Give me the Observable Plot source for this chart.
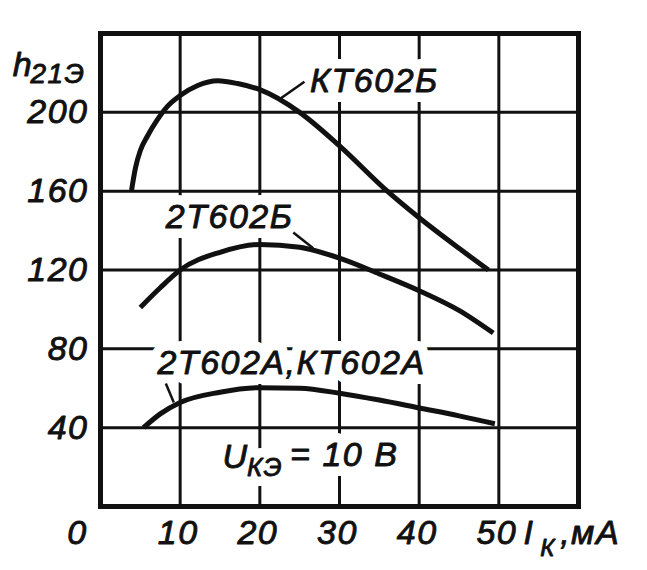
<!DOCTYPE html>
<html>
<head>
<meta charset="utf-8">
<script src="https://cdn.jsdelivr.net/npm/d3@7"></script>
<script src="https://cdn.jsdelivr.net/npm/@observablehq/plot@0.6"></script>
<style>
  html, body { margin: 0; padding: 0; background: #fff; }
  svg text { letter-spacing: 1.5px; }
</style>
</head>
<body>
<div id="chart"></div>
<script>
// Grid / tick values
const xTicks = [10, 20, 30, 40, 50];
const yTicks = [40, 80, 120, 160, 200];

// Curve КТ602Б
const ktbI = [3.9, 4.4, 5.0, 5.9, 7.1, 8.4, 10, 12.2, 14.7, 17.2, 20, 25, 30, 36, 40, 45, 48.7];
const ktbH = [160.5, 172, 180.6, 188, 196, 203, 208.5, 213.6, 216, 214.6, 211.5, 200, 183, 160, 146.5, 131, 120];
// Curve 2Т602Б
const t2bI = [5.0, 7.5, 10, 15, 20, 25, 30, 35, 40, 45, 49.3];
const t2bH = [101, 111, 120, 129, 133, 131.5, 126, 118, 109.5, 99.5, 88];
// Curve 2Т602А, КТ602А
const t2aI = [5.4, 7.5, 10, 15, 20, 25, 30, 35, 40, 45, 49.5];
const t2aH = [40, 47, 52.8, 58, 60.3, 60, 57.5, 54, 50, 46, 42];

const seriesNames = ["КТ602Б", "2Т602Б", "2Т602А,КТ602А"];

const curves = [
  ...ktbI.map((x, i) => ({s: seriesNames[0], x, y: ktbH[i]})),
  ...t2bI.map((x, i) => ({s: seriesNames[1], x, y: t2bH[i]})),
  ...t2aI.map((x, i) => ({s: seriesNames[2], x, y: t2aH[i]}))
];

// Annotation texts (positions in data units)
const notes = [
  {text: seriesNames[0], x: 26.3, y: 216, size: 34},
  {text: seriesNames[1], x: 8.2, y: 147, size: 34},
  {text: seriesNames[2], x: 7.15, y: 73, size: 34},
  {text: "U", x: 15.3, y: 24.9, size: 34},
  {text: "КЭ", x: 18.4, y: 19.8, size: 26},
  {text: "= 10 В", x: 23.8, y: 25.9, size: 34}
];
const leaders = [
  {x1: 22.6, y1: 207, x2: 25.6, y2: 215.5},
  {x1: 24.2, y1: 139, x2: 26.7, y2: 131},
  {x1: 8.2, y1: 62.4, x2: 9.2, y2: 52.8}
];
// Axis titles outside the frame
const outer = [
  {text: "h", x: -11.0, y: 224.2, size: 34},
  {text: "21Э", x: -8.8, y: 219.2, size: 28},
  {text: "I", x: 53.1, y: -13.7, size: 34},
  {text: "К", x: 55.2, y: -21.3, size: 24},
  {text: ",мА", x: 57.7, y: -13.7, size: 34}
];

const font = "'Liberation Sans', Arial, sans-serif";
const ink = "#111";

const textOpts = (extra) => ({
  x: "x", y: "y", text: "text", fontSize: d => d.size,
  textAnchor: "start", fontStyle: "italic", fontFamily: font, ...extra
});
const inkText = {fill: ink, stroke: ink, strokeWidth: 0.9};

const chart = Plot.plot({
  width: 647,
  height: 570,
  marginLeft: 100,
  marginRight: 69,
  marginTop: 33,
  marginBottom: 64,
  x: {domain: [0, 60], axis: null},
  y: {domain: [0, 240], axis: null},
  style: {background: "#fff", fontFamily: font, color: ink},
  marks: [
    Plot.ruleX(xTicks, {stroke: ink, strokeWidth: 3}),
    Plot.ruleY(yTicks, {stroke: ink, strokeWidth: 3}),
    // halos hiding grid behind labels
    Plot.text(notes, textOpts({fill: "#fff", stroke: "#fff", strokeWidth: 20})),
    Plot.text(notes, textOpts(inkText)),
    Plot.link(leaders, {x1: "x1", y1: "y1", x2: "x2", y2: "y2", stroke: ink, strokeWidth: 2.5}),
    Plot.line(curves, {x: "x", y: "y", z: "s", stroke: ink, strokeWidth: 5, curve: "monotone-x", strokeLinecap: "butt"}),
    Plot.frame({stroke: ink, strokeWidth: 5}),
    // tick labels
    Plot.text(yTicks, {x: 0, y: d => d, text: d => String(d), textAnchor: "end", dx: -12,
      fontSize: 34, fontStyle: "italic", fontFamily: font, ...inkText}),
    Plot.text(xTicks, {x: d => d, y: 0, text: d => String(d), dy: 27, dx: -2,
      fontSize: 34, fontStyle: "italic", fontFamily: font, ...inkText}),
    Plot.text([0], {x: 0, y: 0, text: d => String(d), dy: 27, dx: -23,
      fontSize: 34, fontStyle: "italic", fontFamily: font, ...inkText}),
    Plot.text(outer, textOpts(inkText))
  ]
});
document.getElementById("chart").appendChild(chart);
</script>
</body>
</html>
